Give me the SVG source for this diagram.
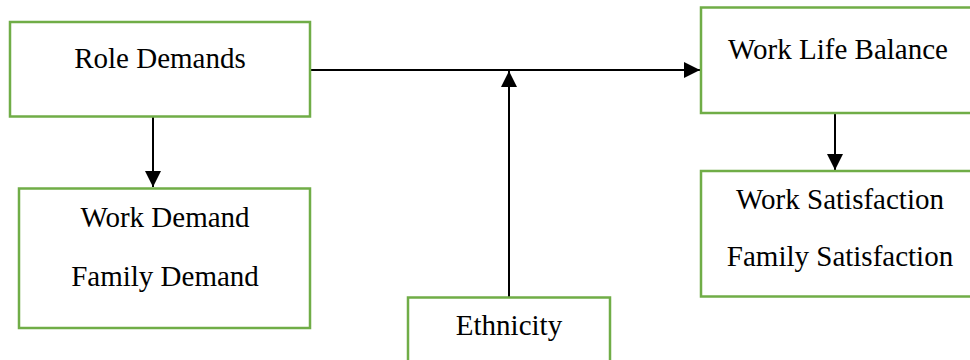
<svg xmlns="http://www.w3.org/2000/svg" width="970" height="360" viewBox="0 0 970 360">
<defs>
<style>
.box{fill:#fff;stroke:#70AD47;stroke-width:2.5}
.t{font-family:"Liberation Serif","Times New Roman",serif;font-size:29px;fill:#000;text-anchor:middle}
.c{stroke:#000;stroke-width:2;fill:none}
</style>
<marker id="ah" viewBox="0 0 16 16" refX="16" refY="8" markerWidth="16" markerHeight="16" markerUnits="userSpaceOnUse" orient="auto">
<path d="M0,0 L16,8 L0,16 Z" fill="#000"/>
</marker>
</defs>
<rect width="970" height="360" fill="#fff"/>
<g id="connectors">
<line class="c" x1="310" y1="70" x2="700" y2="70" marker-end="url(#ah)"/>
<line class="c" x1="509" y1="297" x2="509" y2="71" marker-end="url(#ah)"/>
<line class="c" x1="153" y1="117" x2="153" y2="187" marker-end="url(#ah)"/>
<line class="c" x1="835" y1="114" x2="835" y2="170" marker-end="url(#ah)"/>
</g>
<g id="role-demands">
<rect class="box" x="10" y="22" width="300" height="94.5"/>
<text class="t" x="160" y="68">Role Demands</text>
</g>
<g id="work-family-demand">
<rect class="box" x="19" y="188.5" width="291" height="139.5"/>
<text class="t" x="165" y="227">Work Demand</text>
<text class="t" x="165" y="286">Family Demand</text>
</g>
<g id="ethnicity">
<rect class="box" x="408" y="297.5" width="202" height="80"/>
<text class="t" x="509" y="335">Ethnicity</text>
</g>
<g id="work-life-balance">
<rect class="box" x="701" y="7.5" width="275" height="105.5"/>
<text class="t" x="838" y="59">Work Life Balance</text>
</g>
<g id="satisfaction">
<rect class="box" x="701" y="171" width="275" height="125.5"/>
<text class="t" x="840" y="209">Work Satisfaction</text>
<text class="t" x="840" y="266">Family Satisfaction</text>
</g>
</svg>
